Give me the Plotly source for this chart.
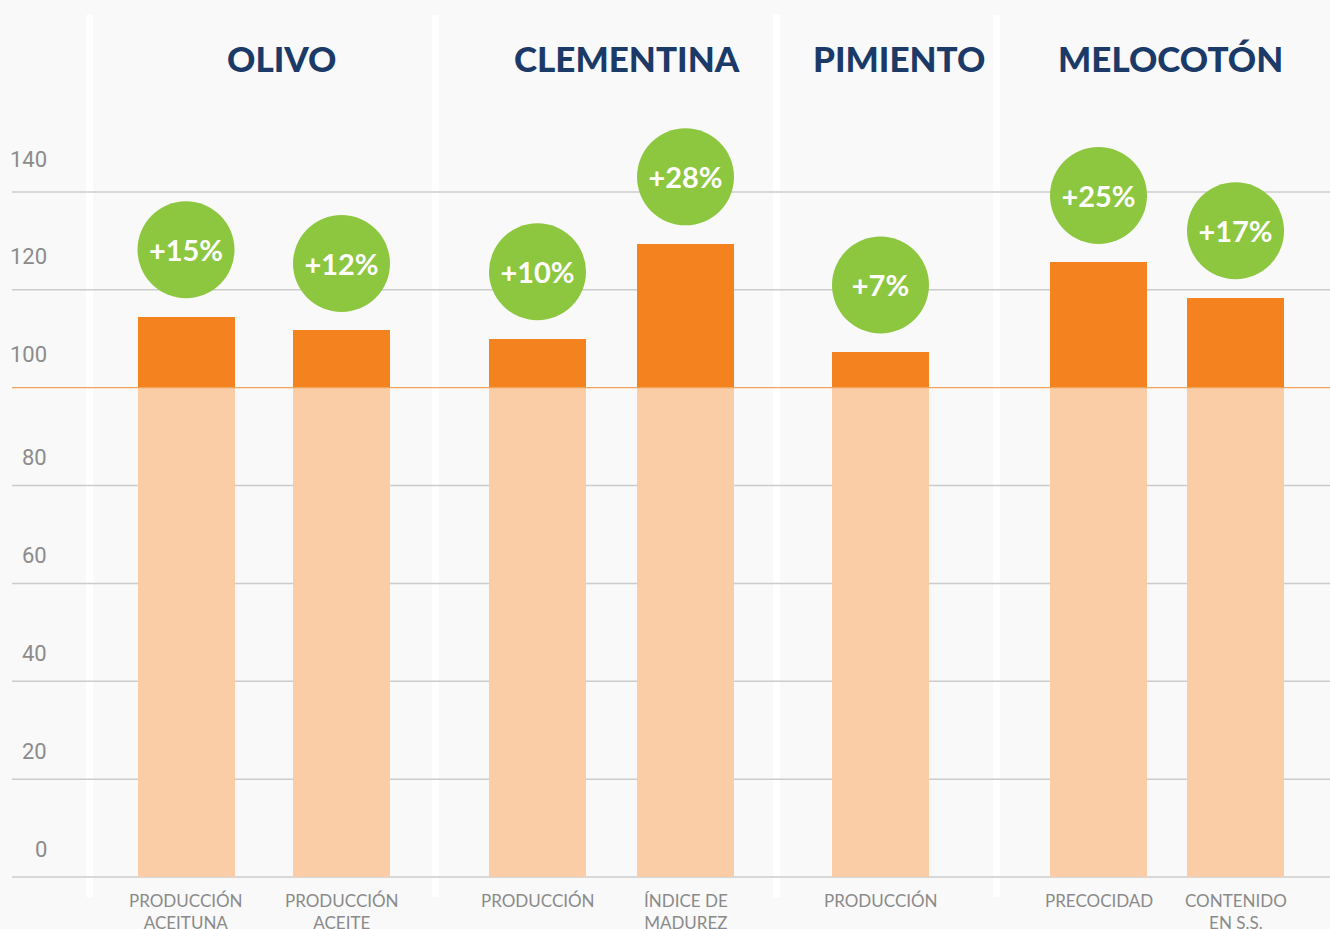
import plotly.graph_objects as go

# ---------------- data ----------------
groups = ["OLIVO", "CLEMENTINA", "PIMIENTO", "MELOCOTÓN"]
categories = ["PRODUCCIÓN<br>ACEITUNA", "PRODUCCIÓN<br>ACEITE", "PRODUCCIÓN",
              "ÍNDICE DE<br>MADUREZ", "PRODUCCIÓN", "PRECOCIDAD", "CONTENIDO<br>EN S.S."]
category_group = [0, 0, 1, 1, 2, 3, 3]
base_values = [100, 100, 100, 100, 100, 100, 100]
values = [114.5, 111.7, 110.0, 129.4, 107.3, 125.6, 118.4]
pct_labels = ["+15%", "+12%", "+10%", "+28%", "+7%", "+25%", "+17%"]
y_ticks = [0, 20, 40, 60, 80, 100, 120, 140]

# ---------------- layout constants ----------------
W, H = 1330, 929
bar_x = [186, 341.5, 537.5, 685.5, 880.5, 1098.5, 1235.5]   # bar centres (px)
group_title_x = [281, 627, 899, 1170]
stripe_x = [86, 432, 773, 993]
bar_w = 97
px_per_unit = (877 - 192) / 140.0
y0_px = 877
y_range = [-(H - y0_px) / px_per_unit, y0_px / px_per_unit]
circle_offset = 67 / px_per_unit
text_offset = 63 / px_per_unit

LIGHT = "#FBCDA7"
DARK = "#F4821F"
GREEN = "#8DC63F"
NAVY = "#1B3A68"
GRID = "#CCCCCC"
BG = "#F9F9F9"

fig = go.Figure()

fig.add_trace(go.Bar(x=bar_x, y=base_values, width=bar_w, marker=dict(color=LIGHT, line_width=0),
                     hoverinfo="skip", showlegend=False))
fig.add_trace(go.Bar(x=bar_x, y=[v - b for v, b in zip(values, base_values)], base=base_values,
                     width=bar_w, marker=dict(color=DARK, line_width=0),
                     hoverinfo="skip", showlegend=False))
fig.add_trace(go.Scatter(x=bar_x, y=[v + circle_offset for v in values], mode="markers",
                         marker=dict(size=97, color=GREEN, line_width=0),
                         hoverinfo="skip", showlegend=False))
fig.add_trace(go.Scatter(x=bar_x, y=[v + text_offset for v in values], mode="text",
                         text=pct_labels, textposition="middle center",
                         textfont=dict(family="Lato", size=29, color="white", weight=700),
                         hoverinfo="skip", showlegend=False))

shapes = []
# white vertical stripes
for sx in stripe_x:
    shapes.append(dict(type="rect", xref="x", yref="paper", x0=sx, x1=sx + 7,
                       y0=1 - 897 / H, y1=1 - 15 / H, fillcolor="white", line_width=0, layer="below"))
# gridlines
for t in y_ticks:
    if t == 100:
        continue
    shapes.append(dict(type="line", xref="x", yref="y", x0=12, x1=W, y0=t, y1=t,
                       line=dict(color=GRID, width=1.5), layer="below"))
shapes.append(dict(type="line", xref="x", yref="y", x0=12, x1=W, y0=100, y1=100,
                   line=dict(color="#F2A45A", width=1.2), layer="above"))

annotations = []
for t in y_ticks:
    annotations.append(dict(x=49, y=t, xref="x", yref="y", text=str(t), showarrow=False,
                            xanchor="right", yanchor="middle", yshift=33 if t >= 100 else 28,
                            font=dict(family="Roboto", size=22, color="#8C8C8C")))
for gx, g in zip(group_title_x, groups):
    annotations.append(dict(x=gx, y=1 - 58 / H, xref="x", yref="paper", text=g, showarrow=False,
                            xanchor="center", yanchor="middle",
                            font=dict(family="Lato", size=35, color=NAVY, weight=900)))
for bx, c in zip(bar_x, categories):
    annotations.append(dict(x=bx, y=1 - 888 / H, xref="x", yref="paper", text=c, showarrow=False,
                            xanchor="center", yanchor="top",
                            font=dict(family="Lato", size=17, color="#8A8A8A")))

fig.update_layout(
    width=W, height=H, margin=dict(l=0, r=0, t=0, b=0),
    paper_bgcolor=BG, plot_bgcolor=BG,
    barmode="overlay", bargap=0,
    xaxis=dict(range=[0, W], visible=False, fixedrange=True),
    yaxis=dict(range=y_range, visible=False, fixedrange=True),
    shapes=shapes, annotations=annotations,
)

fig.write_html("out.html", config={"displayModeBar": False},
               post_script="document.body.style.margin='0';")
